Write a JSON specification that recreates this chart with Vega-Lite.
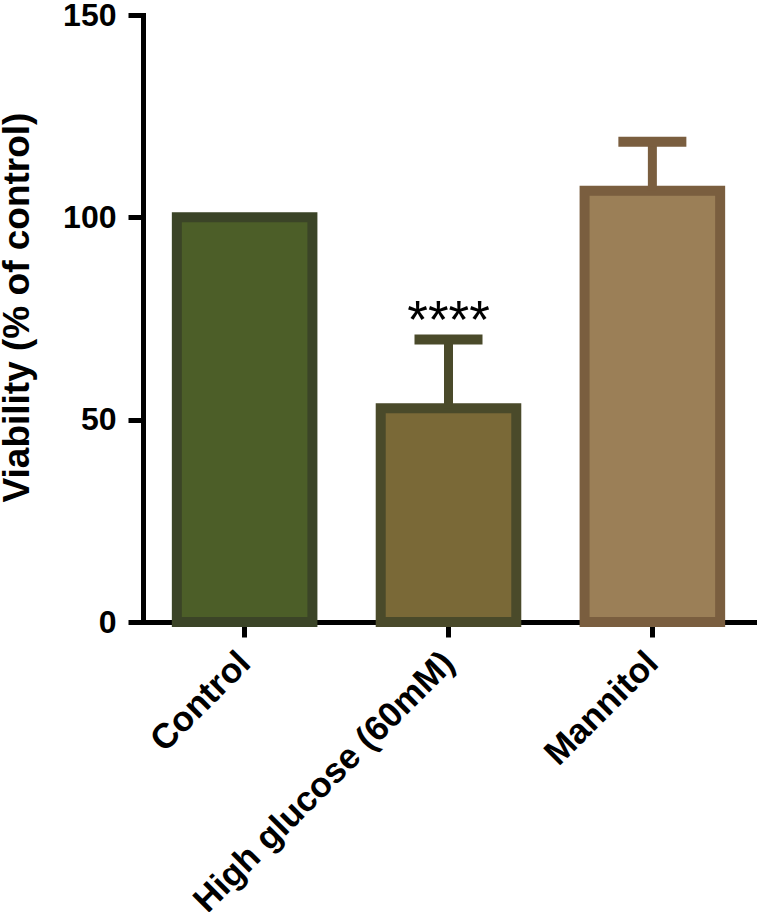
{
  "$schema": "https://vega.github.io/schema/vega-lite/v6.json",
  "width": 611,
  "height": 607,
  "autosize": {"type": "none"},
  "padding": {"left": 143, "top": 15, "right": 3, "bottom": 290},
  "background": "white",
  "config": {
    "view": {"stroke": null},
    "font": "Liberation Sans"
  },
  "data": {
    "values": [
      {"group": "Control", "value": 100, "upper": 100, "sig": ""},
      {"group": "High glucose (60mM)", "value": 52.8, "upper": 69.8, "sig": "****"},
      {"group": "Mannitol", "value": 106.6, "upper": 118.7, "sig": ""}
    ]
  },
  "encoding": {
    "x": {
      "field": "group",
      "type": "nominal",
      "sort": null,
      "scale": {"paddingInner": 0.335, "paddingOuter": 0.166},
      "axis": {
        "title": null,
        "domainColor": "black",
        "domainWidth": 5,
        "domainCap": "square",
        "tickColor": "black",
        "tickWidth": 5,
        "tickSize": 15,
        "labelAngle": -45,
        "labelAlign": "right",
        "labelBaseline": "middle",
        "labelFont": "Liberation Sans",
        "labelFontWeight": "bold",
        "labelFontSize": 35,
        "labelColor": "black",
        "labelPadding": 20,
        "labelLimit": 1000
      }
    }
  },
  "layer": [
    {
      "mark": {"type": "bar", "strokeWidth": 10},
      "encoding": {
        "y": {
          "field": "value",
          "type": "quantitative",
          "scale": {"domain": [0, 150], "nice": false, "zero": true},
          "axis": {
            "title": "Viability (% of control)",
            "titleFont": "Liberation Sans",
            "titleFontWeight": "bold",
            "titleFontSize": 37,
            "titleColor": "black",
            "titleAngle": -90,
            "titleAlign": "center",
            "titleBaseline": "alphabetic",
            "titleX": -115,
            "titleY": 292,
            "values": [0, 50, 100, 150],
            "grid": false,
            "domainColor": "black",
            "domainWidth": 5,
            "domainCap": "square",
            "tickColor": "black",
            "tickWidth": 5,
            "tickSize": 15,
            "labelFont": "Liberation Sans",
            "labelFontWeight": "bold",
            "labelFontSize": 32,
            "labelColor": "black",
            "labelPadding": 12
          }
        },
        "fill": {
          "field": "group",
          "type": "nominal",
          "scale": {
            "domain": ["Control", "High glucose (60mM)", "Mannitol"],
            "range": ["#4c5e28", "#7a6937", "#9b7f57"]
          },
          "legend": null
        },
        "stroke": {
          "field": "group",
          "type": "nominal",
          "scale": {
            "domain": ["Control", "High glucose (60mM)", "Mannitol"],
            "range": ["#3b4427", "#4a4a2a", "#7a5e3f"]
          },
          "legend": null
        }
      }
    },
    {
      "transform": [{"filter": "datum.upper > datum.value"}],
      "mark": {"type": "rule", "strokeWidth": 9},
      "encoding": {
        "y": {"field": "value", "type": "quantitative"},
        "y2": {"field": "upper"},
        "color": {
          "field": "group",
          "type": "nominal",
          "scale": {
            "domain": ["Control", "High glucose (60mM)", "Mannitol"],
            "range": ["#3b4427", "#4a4a2a", "#7a5e3f"]
          },
          "legend": null
        }
      }
    },
    {
      "transform": [{"filter": "datum.upper > datum.value"}],
      "mark": {"type": "tick", "size": 68, "thickness": 10, "opacity": 1},
      "encoding": {
        "y": {"field": "upper", "type": "quantitative"},
        "color": {
          "field": "group",
          "type": "nominal",
          "scale": {
            "domain": ["Control", "High glucose (60mM)", "Mannitol"],
            "range": ["#3b4427", "#4a4a2a", "#7a5e3f"]
          },
          "legend": null
        }
      }
    },
    {
      "transform": [{"filter": "datum.sig != ''"}],
      "mark": {
        "type": "text",
        "font": "Liberation Sans",
        "fontSize": 53,
        "baseline": "alphabetic",
        "align": "center",
        "dy": -2,
        "color": "black"
      },
      "encoding": {
        "y": {"field": "upper", "type": "quantitative"},
        "text": {"field": "sig"}
      }
    }
  ]
}
